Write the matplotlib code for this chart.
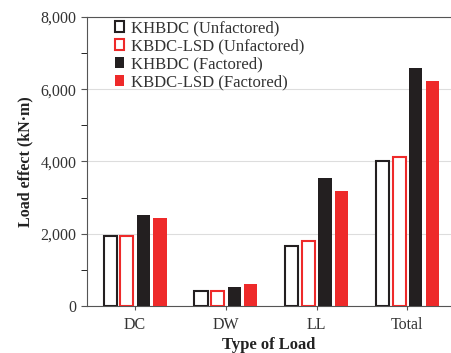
import numpy as np
import matplotlib.pyplot as plt
from matplotlib.ticker import FuncFormatter, MultipleLocator

plt.rcParams['font.family'] = ['Liberation Serif', 'DejaVu Serif']

categories = ['DC', 'DW', 'LL', 'Total']
kh_unf = [1950, 415, 1670, 4010]
lsd_unf = [1950, 415, 1790, 4120]
kh_fac = [2520, 525, 3540, 6600]
lsd_fac = [2440, 600, 3180, 6230]

black = '#231f20'
red = '#ee2a2a'
txt = '#333333'

fig = plt.figure(figsize=(4.51, 3.53), dpi=100)
ax = fig.add_axes([0.193, 0.133, 0.807, 0.819])

x = np.arange(len(categories))
w = 0.145
step = 0.183
ax.bar(x - 1.5 * step, kh_unf, w, facecolor='white', edgecolor=black, linewidth=1.5,
       label='KHBDC (Unfactored)', zorder=3)
ax.bar(x - 0.5 * step, lsd_unf, w, facecolor='white', edgecolor=red, linewidth=1.5,
       label='KBDC-LSD (Unfactored)', zorder=3)
ax.bar(x + 0.5 * step, kh_fac, w, color=black, label='KHBDC (Factored)', zorder=3)
ax.bar(x + 1.5 * step, lsd_fac, w, color=red, label='KBDC-LSD (Factored)', zorder=3)

ax.set_xlim(-0.53, 3.48)
ax.set_ylim(0, 8000)
ax.yaxis.set_major_locator(MultipleLocator(2000))
ax.yaxis.set_minor_locator(MultipleLocator(1000))
ax.yaxis.set_major_formatter(FuncFormatter(lambda v, p: f'{int(v):,}'))
ax.set_xticks(x)
ax.set_xticklabels(categories)
ax.tick_params(labelsize=11.5, color='#555555', labelcolor=txt)
ax.tick_params(axis='y', which='both', length=4)
ax.tick_params(axis='x', length=3, pad=5)
ax.grid(axis='y', color='#dddddd', linewidth=0.8, zorder=0)

ax.spines['right'].set_visible(False)
for s in ['left', 'bottom', 'top']:
    ax.spines[s].set_color('#555555')

ax.set_xlabel('Type of Load', fontsize=12, fontweight='bold', labelpad=3, color='#222222')
ax.set_ylabel('Load effect (kN·m)', fontsize=11.5, fontweight='bold', color='#222222', labelpad=5)

leg = ax.legend(loc='upper left', bbox_to_anchor=(0.035, 1.04), frameon=False, fontsize=12,
                handlelength=0.55, handleheight=0.55, handletextpad=0.45, labelspacing=0.12)
for t in leg.get_texts():
    t.set_color(txt)

fig.savefig('out.png', dpi=100)
